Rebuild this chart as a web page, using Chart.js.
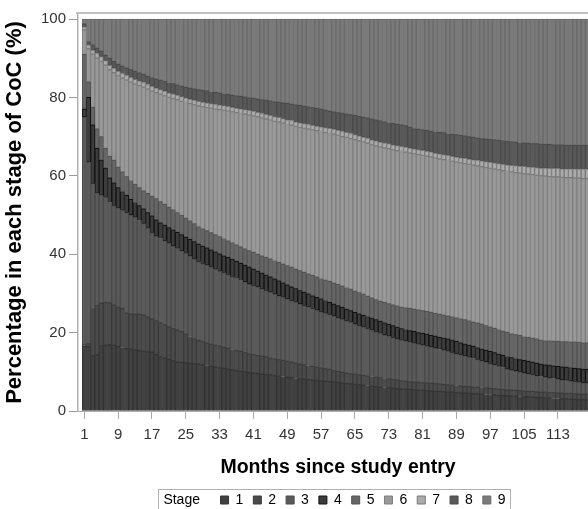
<!DOCTYPE html>
<html>
<head>
<meta charset="utf-8">
<script src="https://cdn.jsdelivr.net/npm/chart.js@4"></script>
<style>
  html, body { margin: 0; padding: 0; background: #fff; }
  #wrap { width: 588px; height: 509px; overflow: hidden; }
  canvas { display: block; }
</style>
</head>
<body>
<div id="wrap"><canvas id="myChart" width="654" height="509"></canvas></div>
<script>
// 各ステージ上端の累積パーセント（1〜121か月目）
var top1 = [16.5, 16.4, 14.1, 14.3, 16.6, 16.8, 16.9, 16.8, 16.5, 16.2, 15.9, 15.8, 15.6, 15.4, 15.2, 15.1, 15.0, 14.4, 13.8, 13.5, 13.2, 12.8, 12.5, 12.4, 12.3, 12.2, 12.1, 12.0,
  11.8, 11.6, 11.4, 11.2, 11.0, 10.9, 10.7, 10.5, 10.3, 10.1, 10.0, 9.8,
  9.7, 9.6, 9.4, 9.3, 9.2, 9.0, 8.9, 8.8, 8.6, 8.5, 8.3, 8.2,
  8.1, 8.0, 7.9, 7.8, 7.7, 7.6, 7.5, 7.4, 7.3, 7.1, 7.0, 6.9,
  6.8, 6.7, 6.6, 6.5, 6.4, 6.2, 6.1, 6.0, 5.9, 5.8, 5.7, 5.6,
  5.5, 5.5, 5.4, 5.3, 5.3, 5.2, 5.1, 5.0, 5.0, 4.9, 4.8, 4.8,
  4.7, 4.6, 4.6, 4.5, 4.4, 4.4, 4.3, 4.2, 4.2, 4.1, 4.0, 4.0,
  3.9, 3.8, 3.8, 3.7, 3.6, 3.6, 3.5, 3.4, 3.4, 3.3, 3.3, 3.2,
  3.2, 3.1, 3.1, 3.0, 3.0, 2.9, 2.9, 2.8, 2.8];
var top2 = [16.9, 17.2, 26.4, 26.9, 27.5, 27.7, 27.6, 27.0, 26.5, 26.2, 25.0, 24.8, 24.7, 24.7, 24.5, 24.0, 23.5, 23.0, 22.5, 22.0, 21.5, 21.0, 20.7, 20.3, 19.6, 19.0, 18.4, 18.0,
  17.7, 17.4, 17.1, 16.8, 16.6, 16.3, 16.0, 15.7, 15.4, 15.2, 14.9, 14.6,
  14.4, 14.2, 14.0, 13.8, 13.5, 13.3, 13.1, 12.9, 12.7, 12.5, 12.2, 12.0,
  11.8, 11.6, 11.4, 11.2, 11.0, 10.8, 10.6, 10.3, 10.1, 9.9, 9.7, 9.5,
  9.4, 9.2, 9.1, 8.9, 8.8, 8.6, 8.5, 8.3, 8.2, 8.0, 7.9, 7.7,
  7.6, 7.5, 7.4, 7.3, 7.2, 7.2, 7.1, 7.0, 6.9, 6.8, 6.7, 6.6,
  6.5, 6.4, 6.3, 6.2, 6.1, 6.1, 6.0, 5.9, 5.8, 5.7, 5.6, 5.5,
  5.4, 5.4, 5.3, 5.2, 5.1, 5.0, 5.0, 4.9, 4.8, 4.8, 4.7, 4.7,
  4.6, 4.6, 4.5, 4.5, 4.4, 4.4, 4.3, 4.3, 4.3];
var top3 = [75.0, 63.5, 58.0, 55.5, 55.0, 54.5, 53.2, 52.4, 51.8, 51.2, 50.6, 50.0, 49.4, 48.6, 47.8, 46.6, 45.5, 44.6, 44.0, 43.4, 42.8, 42.1, 41.5, 40.8, 40.2, 39.5, 38.8, 38.1,
  37.6, 37.2, 36.7, 36.2, 35.7, 35.3, 34.8, 34.3, 33.8, 33.3, 32.9, 32.4,
  32.0, 31.6, 31.1, 30.7, 30.3, 29.8, 29.4, 29.0, 28.6, 28.1, 27.7, 27.3,
  26.9, 26.5, 26.1, 25.7, 25.3, 24.9, 24.6, 24.2, 23.8, 23.4, 23.0, 22.6,
  22.2, 21.8, 21.4, 21.0, 20.6, 20.2, 19.8, 19.4, 19.1, 18.7, 18.4, 18.0,
  17.8, 17.5, 17.3, 17.0, 16.8, 16.5, 16.3, 16.0, 15.7, 15.5, 15.2, 14.9,
  14.6, 14.3, 14.0, 13.7, 13.4, 13.1, 12.8, 12.5, 12.1, 11.8, 11.4, 11.1,
  10.7, 10.4, 10.2, 9.9, 9.7, 9.5, 9.3, 9.0, 8.8, 8.6, 8.4, 8.3,
  8.1, 7.9, 7.8, 7.6, 7.5, 7.3, 7.2, 7.1, 7.0];
var top4 = [77.0, 80.0, 73.0, 67.0, 64.0, 62.0, 59.5, 58.2, 57.0, 56.0, 55.0, 54.0, 53.2, 52.4, 51.6, 50.6, 49.8, 48.8, 48.0, 47.4, 46.8, 46.2, 45.6, 45.0, 44.4, 43.8, 43.2, 42.6,
  42.1, 41.6, 41.1, 40.6, 40.1, 39.6, 39.2, 38.7, 38.2, 37.7, 37.2, 36.7,
  36.2, 35.7, 35.2, 34.7, 34.2, 33.7, 33.2, 32.7, 32.2, 31.7, 31.2, 30.7,
  30.3, 29.9, 29.4, 29.0, 28.6, 28.2, 27.7, 27.3, 26.9, 26.5, 26.0, 25.6,
  25.2, 24.8, 24.4, 24.1, 23.7, 23.3, 22.9, 22.5, 22.1, 21.8, 21.4, 21.0,
  20.8, 20.5, 20.3, 20.0, 19.8, 19.6, 19.3, 19.1, 18.8, 18.6, 18.4, 18.1,
  17.8, 17.4, 17.1, 16.8, 16.5, 16.1, 15.8, 15.5, 15.2, 14.9, 14.5, 14.2,
  13.9, 13.6, 13.4, 13.1, 12.9, 12.7, 12.5, 12.2, 12.0, 11.8, 11.7, 11.5,
  11.4, 11.3, 11.2, 11.1, 10.9, 10.8, 10.7, 10.6, 10.5];
var top5 = [91.0, 84.0, 77.5, 72.0, 70.0, 67.0, 65.0, 64.0, 62.2, 61.0, 59.8, 58.8, 57.8, 57.0, 56.2, 55.5, 54.8, 54.2, 53.4, 52.7, 52.0, 51.3, 50.6, 49.9, 49.2, 48.5, 47.8, 47.0,
  46.5, 46.0, 45.5, 45.0, 44.5, 44.0, 43.4, 42.9, 42.4, 41.9, 41.4, 40.9,
  40.5, 40.0, 39.6, 39.2, 38.8, 38.4, 37.9, 37.5, 37.1, 36.7, 36.2, 35.8,
  35.4, 35.0, 34.6, 34.2, 33.8, 33.4, 33.1, 32.7, 32.3, 31.9, 31.5, 31.1,
  30.6, 30.2, 29.8, 29.3, 28.9, 28.4, 28.0, 27.7, 27.4, 27.1, 26.8, 26.5,
  26.3, 26.2, 26.0, 25.8, 25.6, 25.4, 25.2, 24.9, 24.7, 24.5, 24.3, 24.0,
  23.8, 23.5, 23.3, 23.0, 22.7, 22.5, 22.2, 21.8, 21.5, 21.1, 20.8, 20.4,
  20.1, 19.7, 19.5, 19.3, 19.0, 18.8, 18.6, 18.4, 18.1, 17.9, 17.9, 17.8,
  17.8, 17.7, 17.7, 17.6, 17.6, 17.5, 17.4, 17.4, 17.3];
var top6 = [97.2, 92.4, 91.0, 90.0, 89.2, 88.2, 87.0, 86.3, 85.5, 84.9, 84.4, 83.9, 83.4, 83.0, 82.6, 82.1, 81.6, 81.2, 80.8, 80.4, 80.0, 79.7, 79.4, 79.0, 78.7, 78.4, 78.1, 77.8,
  77.6, 77.4, 77.2, 77.0, 76.9, 76.7, 76.5, 76.3, 76.1, 75.9, 75.7, 75.5,
  75.3, 75.0, 74.7, 74.5, 74.2, 73.9, 73.7, 73.4, 73.1, 72.9, 72.6, 72.3,
  72.1, 71.9, 71.7, 71.5, 71.3, 71.0, 70.8, 70.6, 70.3, 70.0, 69.8, 69.5,
  69.2, 68.9, 68.6, 68.3, 67.9, 67.6, 67.3, 67.1, 66.9, 66.6, 66.4, 66.2,
  66.0, 65.8, 65.6, 65.4, 65.2, 65.0, 64.8, 64.5, 64.3, 64.1, 63.9, 63.7,
  63.5, 63.3, 63.1, 62.9, 62.7, 62.5, 62.3, 62.1, 61.9, 61.7, 61.5, 61.3,
  61.1, 61.0, 60.8, 60.7, 60.5, 60.4, 60.3, 60.1, 60.0, 59.9, 59.8, 59.7,
  59.7, 59.6, 59.5, 59.5, 59.4, 59.4, 59.3, 59.3, 59.3];
var top7 = [98.0, 93.4, 92.1, 91.2, 90.4, 89.4, 88.2, 87.5, 86.7, 86.1, 85.6, 85.1, 84.6, 84.2, 83.8, 83.3, 82.8, 82.4, 82.0, 81.6, 81.2, 80.9, 80.6, 80.2, 79.9, 79.6, 79.3, 79.0,
  78.8, 78.6, 78.4, 78.2, 78.1, 77.9, 77.7, 77.5, 77.3, 77.1, 76.9, 76.7,
  76.5, 76.2, 75.9, 75.7, 75.4, 75.1, 74.9, 74.6, 74.3, 74.1, 73.8, 73.5,
  73.3, 73.1, 72.9, 72.7, 72.5, 72.3, 72.1, 71.9, 71.6, 71.3, 71.1, 70.8,
  70.5, 70.2, 69.9, 69.6, 69.2, 68.9, 68.6, 68.4, 68.2, 67.9, 67.7, 67.5,
  67.3, 67.1, 66.9, 66.7, 66.5, 66.3, 66.1, 65.8, 65.6, 65.4, 65.2, 65.0,
  64.8, 64.6, 64.5, 64.3, 64.1, 64.0, 63.8, 63.6, 63.5, 63.3, 63.1, 63.0,
  62.8, 62.7, 62.6, 62.5, 62.4, 62.3, 62.2, 62.1, 62.0, 62.0, 61.9, 61.9,
  61.9, 61.8, 61.8, 61.8, 61.8, 61.8, 61.8, 61.8, 61.8];
var top8 = [98.8, 94.2, 93.4, 92.6, 91.8, 90.8, 90.0, 89.2, 88.5, 88.0, 87.5, 87.1, 86.7, 86.3, 85.9, 85.4, 85.0, 84.7, 84.4, 84.1, 83.8, 83.5, 83.2, 82.9, 82.6, 82.4, 82.2, 82.0,
  81.8, 81.7, 81.5, 81.3, 81.1, 81.0, 80.8, 80.6, 80.4, 80.3, 80.1, 79.9,
  79.8, 79.6, 79.4, 79.3, 79.1, 78.9, 78.8, 78.6, 78.5, 78.3, 78.1, 78.0,
  77.8, 77.6, 77.4, 77.2, 77.0, 76.8, 76.5, 76.3, 76.1, 76.0, 75.8, 75.6,
  75.4, 75.2, 75.0, 74.8, 74.5, 74.3, 74.0, 73.8, 73.6, 73.4, 73.2, 73.0,
  72.8, 72.4, 72.0, 71.9, 71.7, 71.6, 71.4, 71.3, 71.1, 71.0, 70.8, 70.6,
  70.5, 70.3, 70.2, 70.0, 69.8, 69.6, 69.5, 69.4, 69.3, 69.2, 69.1, 68.9,
  68.8, 68.7, 68.6, 68.5, 68.4, 68.3, 68.2, 68.2, 68.1, 68.0, 68.0, 67.9,
  67.9, 67.9, 67.8, 67.8, 67.8, 67.8, 67.8, 67.8, 67.8];

var stageNames = ['1', '2', '3', '4', '5', '6', '7', '8', '9'];
var xTicks = [1, 9, 17, 25, 33, 41, 49, 57, 65, 73, 81, 89, 97, 105, 113];
var yTicks = [0, 20, 40, 60, 80, 100];

// 塗りと枠線の色（グレースケール）
var fills = ['#414141', '#4b4b4b', '#5a5a5a', '#3c3c3c', '#666666', '#999999', '#ababab', '#595959', '#7a7a7a'];
var borders = ['#333333', '#3a3a3a', '#4a4a4a', '#111111', '#525252', '#7f7f7f', '#777777', '#4a4a4a', '#6a6a6a'];

var tops = [top1, top2, top3, top4, top5, top6, top7, top8];
var months = top1.map(function (v, i) { return i + 1; });

// 累積値から各ステージの割合を作る
var datasets = [];
for (var s = 0; s < stageNames.length; s++) {
  var data = [];
  for (var i = 0; i < months.length; i++) {
    var hi = s < tops.length ? tops[s][i] : 100;
    var lo = s > 0 ? tops[s - 1][i] : 0;
    data.push({ x: months[i], y: Math.round((hi - lo) * 10) / 10 });
  }
  datasets.push({
    label: stageNames[s],
    data: data,
    backgroundColor: fills[s],
    borderColor: borders[s],
    borderWidth: 1,
    borderSkipped: false,
    barPercentage: 1,
    categoryPercentage: 1
  });
}

Chart.defaults.font.family = "'Liberation Sans', Arial, sans-serif";
Chart.defaults.color = '#333';

// 上枠とレジェンドの囲み
var framePlugin = {
  id: 'frame',
  afterDraw: function (chart) {
    var ctx = chart.ctx;
    var a = chart.chartArea;
    ctx.save();
    ctx.strokeStyle = '#c0c0c0';
    ctx.lineWidth = 2;
    ctx.beginPath();
    ctx.moveTo(a.left - 2, a.top - 1);
    ctx.lineTo(a.right, a.top - 1);
    ctx.stroke();

    var lg = chart.legend;
    var hb = lg.legendHitBoxes;
    if (hb && hb.length) {
      var lab = lg.options.labels;
      var first = hb[0], last = hb[hb.length - 1];
      var x0 = first.left + lab.boxWidth + lab.font.size / 2 - 5;
      var x1 = last.left + last.width + 5;
      var y0 = first.top - 4;
      var y1 = first.top + first.height + 5;
      ctx.strokeStyle = '#b0b0b0';
      ctx.lineWidth = 1;
      ctx.strokeRect(Math.round(x0) + 0.5, Math.round(y0) + 0.5, Math.round(x1 - x0), Math.round(y1 - y0));
    }
    ctx.restore();
  }
};

const ctx = document.getElementById('myChart').getContext('2d');
var myChart = new Chart(ctx, {
  type: 'bar',
  data: { datasets: datasets },
  plugins: [framePlugin],
  options: {
    responsive: false,
    animation: false,
    devicePixelRatio: 1,
    events: [],
    layout: { padding: { top: 14, left: 0, right: 0, bottom: -8 } },
    scales: {
      x: {
        type: 'linear',
        stacked: true,
        offset: false,
        min: -0.49,
        max: 122.49,
        afterBuildTicks: function (scale) {
          scale.ticks = xTicks.map(function (v) { return { value: v }; });
        },
        grid: { display: true, drawOnChartArea: false, offset: false, tickLength: 8, color: '#aaaaaa' },
        border: { display: true, color: '#aaaaaa', width: 1 },
        ticks: {
          autoSkip: false, maxRotation: 0, padding: 7,
          font: { size: 15 }, color: '#333',
          callback: function (v) { return String(v); }
        },
        title: {
          display: true,
          text: 'Months since study entry',
          color: '#000',
          font: { size: 19.5, weight: 'bold' },
          padding: { top: 0, bottom: 4 }
        },
        afterFit: function (scale) { scale.height = 72; }
      },
      y: {
        stacked: true,
        min: 0,
        max: 101.28,
        afterBuildTicks: function (scale) {
          scale.ticks = yTicks.map(function (v) { return { value: v }; });
        },
        grid: { display: true, drawOnChartArea: false, tickLength: 9, color: '#999999' },
        border: { display: true, color: '#b0b0b0', width: 1.5 },
        ticks: { padding: 3, font: { size: 15 }, color: '#333' },
        title: {
          display: true,
          text: 'Percentage in each stage of CoC (%)',
          color: '#000',
          font: { size: 22, weight: 'bold' },
          padding: { top: 2, bottom: 0 }
        },
        afterFit: function (scale) { scale.width = 78; }
      },
      yR: {
        type: 'linear',
        position: 'right',
        display: true,
        grid: { display: false },
        border: { display: false },
        ticks: { display: false },
        afterFit: function (scale) { scale.width = 56; }
      }
    },
    plugins: {
      tooltip: { enabled: false },
      legend: {
        position: 'bottom',
        labels: {
          boxWidth: 8,
          boxHeight: 8,
          padding: 10,
          color: '#000',
          font: { size: 14 },
          generateLabels: function (chart) {
            var items = Chart.defaults.plugins.legend.labels.generateLabels(chart);
            items.unshift({
              text: 'Stage  \u2009',
              fillStyle: 'rgba(0,0,0,0)',
              strokeStyle: 'rgba(0,0,0,0)',
              lineWidth: 0,
              hidden: false,
              datasetIndex: -1
            });
            return items;
          }
        }
      }
    }
  }
});
</script>
</body>
</html>
